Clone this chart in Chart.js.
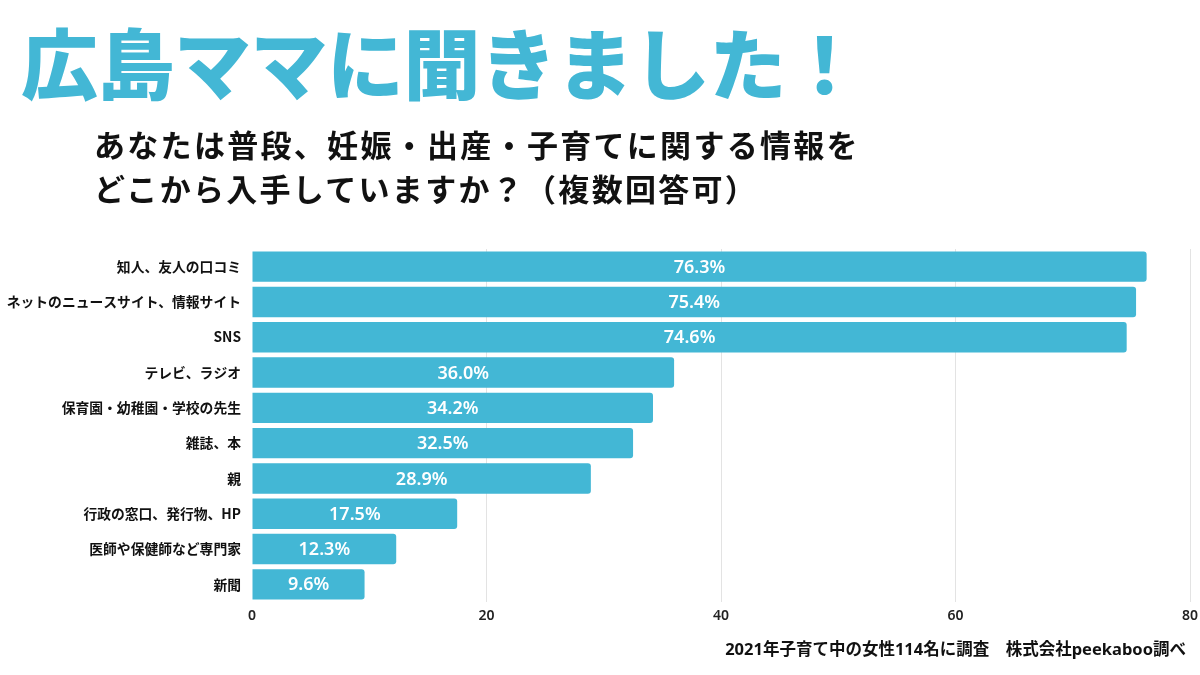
<!DOCTYPE html>
<html lang="ja">
<head>
<meta charset="utf-8">
<script src="https://cdn.jsdelivr.net/npm/chart.js@4"></script>
<style>
  html, body { margin: 0; padding: 0; background: #fff; }
  #wrap { position: relative; width: 1200px; height: 675px; overflow: hidden; }
  #title {
    position: absolute; left: 21px; top: 22px;
    font-family: "Noto Sans CJK JP", sans-serif; font-weight: 900;
    font-size: 77px; line-height: 1; color: #43b7d5; letter-spacing: -0.5px;
  }
  #sub {
    position: absolute; left: 94px; top: 122px;
    font-family: "Noto Sans CJK JP", sans-serif; font-weight: 600;
    font-size: 31px; line-height: 44px; color: #111; letter-spacing: 2.3px;
  }
  #note {
    position: absolute; right: 14px; top: 636px;
    font-family: "Noto Sans", "Noto Sans CJK JP", sans-serif; font-weight: 700;
    font-size: 16.5px; color: #111;
  }
  canvas { position: absolute; left: 0; top: 0; }
</style>
</head>
<body>
<div id="wrap">
  <canvas id="chart" width="1200" height="675"></canvas>
  <div id="title">広島ママに聞きました！</div>
  <div id="sub">あなたは普段、妊娠・出産・子育てに関する情報を<br>どこから入手していますか？（複数回答可）</div>
  <div id="note">2021年子育て中の女性114名に調査　株式会社peekaboo調べ</div>
</div>
<script>
// 回答データ
const sources = ['知人、友人の口コミ', 'ネットのニュースサイト、情報サイト', 'SNS', 'テレビ、ラジオ',
  '保育園・幼稚園・学校の先生', '雑誌、本', '親', '行政の窓口、発行物、HP', '医師や保健師など専門家', '新聞'];
const percents = [76.3, 75.4, 74.6, 36.0, 34.2, 32.5, 28.9, 17.5, 12.3, 9.6];
const xTicks = [0, 20, 40, 60, 80];

// バーの中央に値を描く
const barLabels = {
  id: 'barLabels',
  afterDatasetsDraw(chart) {
    const ctx = chart.ctx;
    const meta = chart.getDatasetMeta(0);
    ctx.save();
    ctx.fillStyle = '#ffffff';
    ctx.font = '600 18px "Noto Sans", sans-serif';
    ctx.textAlign = 'center';
    ctx.textBaseline = 'middle';
    meta.data.forEach((bar, i) => {
      ctx.fillText(percents[i].toFixed(1) + '%', (bar.x + bar.base) / 2, bar.y + 1);
    });
    ctx.restore();
  }
};

new Chart(document.getElementById('chart').getContext('2d'), {
  type: 'bar',
  data: {
    labels: sources,
    datasets: [{
      data: percents,
      backgroundColor: '#43b7d5',
      borderRadius: 3,
      borderSkipped: 'start',
      barPercentage: 0.86,
      categoryPercentage: 1
    }]
  },
  options: {
    indexAxis: 'y',
    responsive: false,
    animation: false,
    layout: { padding: { top: 249, right: 0, left: 0, bottom: 0 } },
    plugins: { legend: { display: false }, tooltip: { enabled: false } },
    scales: {
      x: {
        min: 0, max: 80,
        afterBuildTicks: (scale) => { scale.ticks = xTicks.map(v => ({ value: v })); },
        afterFit: (scale) => { scale.height = 73; scale.paddingRight = 10; },
        border: { display: false },
        grid: {
          drawTicks: false,
          color: (c) => c.tick && c.tick.value === 0 ? 'rgba(0,0,0,0)' : '#e3e3e3'
        },
        ticks: { padding: 6, color: '#222', font: { family: '"Noto Sans", sans-serif', size: 14, weight: '600' } }
      },
      y: {
        afterFit: (scale) => { scale.width = 252; },
        border: { display: false },
        grid: { display: false, drawTicks: false },
        ticks: { padding: 11, color: '#111', font: { family: '"Noto Sans CJK JP", sans-serif', size: 13.8, weight: '700' } }
      }
    }
  },
  plugins: [barLabels]
});
</script>
</body>
</html>
